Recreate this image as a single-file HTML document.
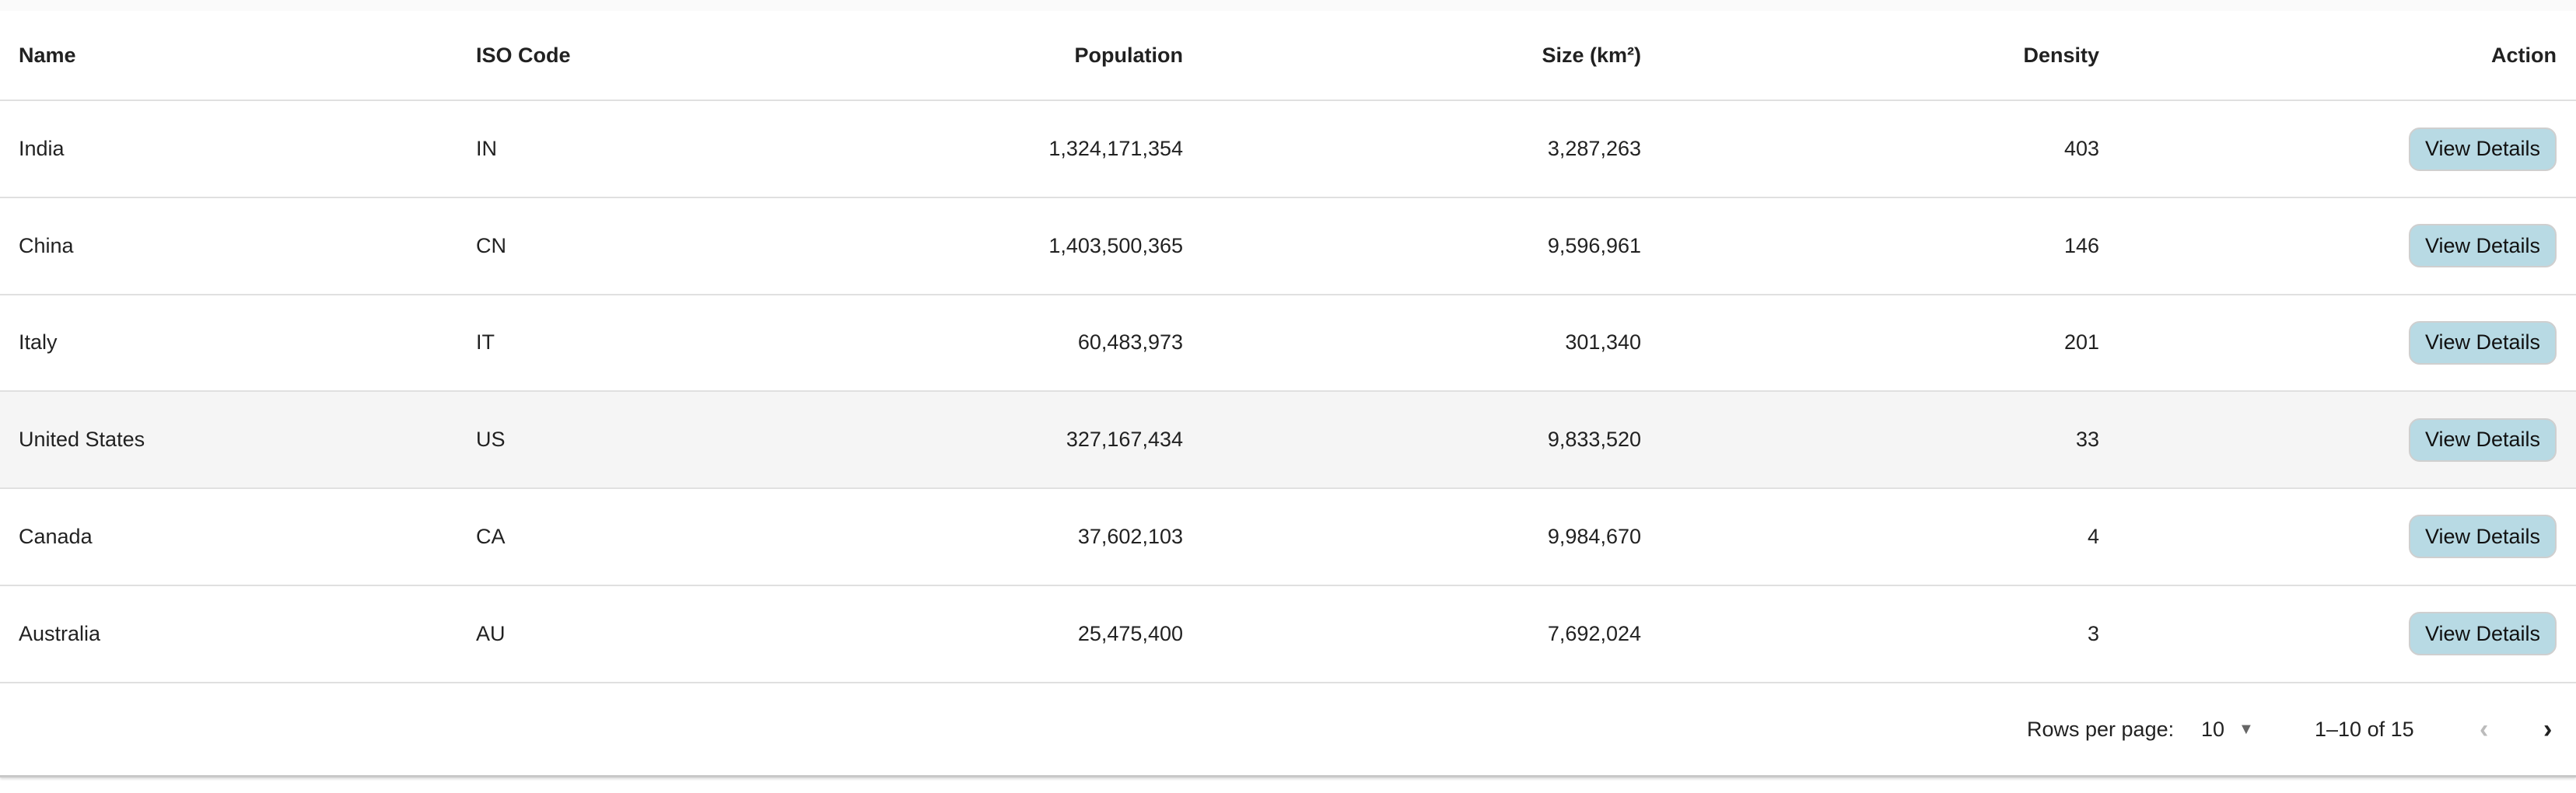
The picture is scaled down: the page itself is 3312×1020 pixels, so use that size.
<!DOCTYPE html>
<html><head><meta charset="utf-8"><style>
*{margin:0;padding:0;box-sizing:border-box}
body{width:3312px;height:1020px;background:#fff;font-family:"Liberation Sans",Arial,sans-serif;color:rgba(0,0,0,0.87);position:relative;overflow:hidden}
.band{position:absolute;left:0;top:0;width:3312px;height:14px;background:#fafafa}
.row{position:absolute;left:0;width:3312px;height:125px;border-bottom:2px solid #e0e0e0}
.cell{position:absolute;top:0;height:100%;display:flex;align-items:center;font-size:27px;white-space:nowrap}
.l{justify-content:flex-start}
.r{justify-content:flex-end}
.head .cell{font-weight:bold;font-size:27px}
.btn{width:190px;height:56px;background:#b8dae4;border:2px solid #cfcfcf;border-radius:14px;font-size:27px;color:#111;display:flex;align-items:center;justify-content:center}
.footer{position:absolute;left:0;top:880px;width:3312px;height:120px;border-bottom:3px solid #c8c8c8;box-shadow:0 2px 3px rgba(0,0,0,0.15)}
.ft{position:absolute;top:0;height:100%;display:flex;align-items:center;font-size:27px}
</style></head><body>
<div class="band"></div>
<div id="tbl"></div>
<div class="footer">
 <div class="ft" style="left:2606px">Rows per page:</div>
 <div class="ft" style="left:2830px">10<span style="font-size:20px;color:#666;margin-left:18px">▼</span></div>
 <div class="ft" style="left:2976px">1–10 of 15</div>
 <div class="ft" style="left:3188px;color:#bbb;font-size:34px;font-weight:bold">‹</div>
 <div class="ft" style="left:3270px;color:#222;font-size:34px;font-weight:bold">›</div>
</div>
<script>
const names=["India","China","Italy","United States","Canada","Australia"];
const codes=["IN","CN","IT","US","CA","AU"];
const pops=["1,324,171,354","1,403,500,365","60,483,973","327,167,434","37,602,103","25,475,400"];
const sizes=["3,287,263","9,596,961","301,340","9,833,520","9,984,670","7,692,024"];
const dens=["403","146","201","33","4","3"];
const tbl=document.getElementById('tbl');
function cell(row,txt,left,width,align,name){
 const c=document.createElement('div');
 c.className='cell '+align;
 c.style.left=left+'px';c.style.width=width+'px';
 c.textContent=txt;
 
 
 row.appendChild(c);return c;
}
function mkRow(top,h,cls,name){
 const r=document.createElement('div');
 r.className='row '+cls;r.style.top=top+'px';r.style.height=h+'px';
 
 
 tbl.appendChild(r);return r;
}
const hr=mkRow(14,116,'head','header-row');
cell(hr,'Name',24,500,'l','name-header');
cell(hr,'ISO Code',612,500,'l','iso-header');
cell(hr,'Population',1000,521,'r','population-header');
cell(hr,'Size (km²)',1600,510,'r','size-header');
cell(hr,'Density',2200,499,'r','density-header');
cell(hr,'Action',2900,387,'r','action-header');
for(let i=0;i<names.length;i++){
 const r=mkRow(130+i*124.7,125,'','row-'+codes[i].toLowerCase());
 if(i===3) r.style.background='#f5f5f5';
 cell(r,names[i],24,500,'l','country-name');
 cell(r,codes[i],612,500,'l','iso-code');
 cell(r,pops[i],1000,521,'r','population');
 cell(r,sizes[i],1600,510,'r','size');
 cell(r,dens[i],2200,499,'r','density');
 const a=cell(r,'',2900,387,'r','action-cell');
 const b=document.createElement('div');
 b.className='btn';b.textContent='View Details';
 
 
 a.appendChild(b);
}
</script>
</body></html>
